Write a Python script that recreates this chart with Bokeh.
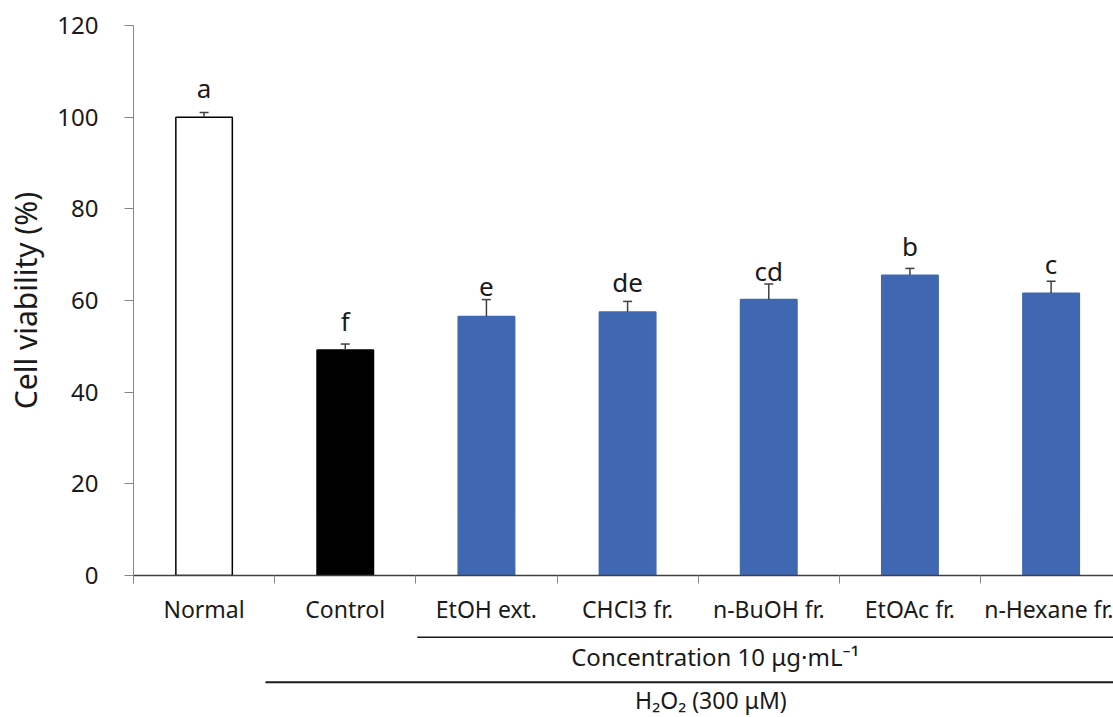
from bokeh.plotting import figure
from bokeh.models import Range1d, FixedTicker, ColumnDataSource
from bokeh.layouts import column
from bokeh.embed import file_html
from bokeh.resources import INLINE
from bokeh.core.properties import value

# ---------------- data ----------------
categories = ["Normal", "Control", "EtOH ext.", "CHCl3 fr.", "n-BuOH fr.", "EtOAc fr.", "n-Hexane fr."]
viability = [100.0, 49.2, 56.5, 57.5, 60.2, 65.5, 61.6]
error_up = [1.0, 1.3, 3.7, 2.3, 3.4, 1.5, 2.6]
letters = ["a", "f", "e", "de", "cd", "b", "c"]
letter_y = [104.3, 53.6, 60.9, 62.0, 64.5, 70.0, 65.9]
y_ticks = [0, 20, 40, 60, 80, 100, 120]
y_label = "Cell viability (%)"
group1_label = "Concentration 10 \u03bcg\u00b7mL\u207b\u00b9"
group2_label = "H\u2082O\u2082 (300 \u03bcM)"

# styles
BLUE = "#4068b2"
fill_colors = ["white", "black"] + [BLUE] * 5
line_colors = ["black", "black"] + [BLUE] * 5
FONT = "Noto Sans"
TXT = "#1a1a1a"

n = len(categories)
xs = [i + 0.5 for i in range(n)]
err_top = [v + e for v, e in zip(viability, error_up)]
cap = 0.032

src = ColumnDataSource(dict(
    x=xs, top=viability, et=err_top, fill=fill_colors, line=line_colors,
    xl=[x - cap for x in xs], xr=[x + cap for x in xs],
    letters=letters, ly=letter_y,
))

x_range = Range1d(0, 6.942)

p = figure(width=1113, height=630, x_range=x_range, y_range=Range1d(0, 120),
           output_backend="svg", toolbar_location=None,
           min_border_left=133, min_border_right=0, min_border_top=25, min_border_bottom=55)
p.outline_line_color = None
p.grid.visible = False
p.background_fill_color = "white"
p.border_fill_color = "white"

p.vbar(x="x", top="top", width=0.40, bottom=0, fill_color="fill", line_color="line",
       line_width=1.5, source=src)
p.segment(x0="x", y0="top", x1="x", y1="et", line_color="#404040", line_width=1.5, source=src)
p.segment(x0="xl", y0="et", x1="xr", y1="et", line_color="#404040", line_width=1.5, source=src)
p.text(x="x", y="ly", text="letters", text_align="center", text_baseline="alphabetic",
       y_offset=-9, text_font=value(FONT), text_font_size="26px", text_color=TXT, source=src)

# y axis
ya = p.yaxis[0]
ya.ticker = FixedTicker(ticks=y_ticks)
ya.minor_tick_line_color = None
ya.major_tick_in = 0
ya.major_tick_out = 9
ya.major_tick_line_color = "#868686"
ya.axis_line_color = "#868686"
ya.major_label_standoff = 26
ya.major_label_text_font = FONT
ya.major_label_text_font_size = "24px"
ya.major_label_text_color = TXT
ya.axis_label = y_label
ya.axis_label_text_font = FONT
ya.axis_label_text_font_size = "30px"
ya.axis_label_text_font_style = "normal"
ya.axis_label_text_color = TXT
ya.axis_label_standoff = 8

# x axis: category names at centres, boundary marks as minor ticks
xa = p.xaxis[0]
xa.ticker = FixedTicker(ticks=xs, minor_ticks=list(range(n + 1)))
xa.major_label_overrides = {x: c for x, c in zip(xs, categories)}
xa.major_tick_in = 0
xa.major_tick_out = 0
xa.major_tick_line_color = None
xa.minor_tick_in = 0
xa.minor_tick_out = 8
xa.minor_tick_line_color = "#868686"
xa.axis_line_color = "#404040"
xa.axis_line_width = 1.5
xa.major_label_standoff = 9
xa.major_label_text_font = FONT
xa.major_label_text_font_size = "23px"
xa.major_label_text_color = TXT

# ------------- lower panel: group brackets -------------
q = figure(width=1113, height=87, x_range=x_range, y_range=Range1d(87, 0),
           output_backend="svg", toolbar_location=None,
           x_axis_type=None, y_axis_type=None,
           min_border_left=133, min_border_right=0, min_border_top=0, min_border_bottom=0)
q.outline_line_color = None
q.grid.visible = False

q.segment(x0=[2.01], y0=[6.7], x1=[7.5], y1=[6.7], line_color="#1a1a1a", line_width=1.5)
q.segment(x0=[0.935], y0=[51.7], x1=[7.5], y1=[51.7], line_color="#1a1a1a", line_width=2)
q.text(x=[4.12], y=[26], text=[group1_label], text_align="center", text_baseline="middle",
       text_font=value(FONT), text_font_size="24px", text_color=TXT)
q.text(x=[4.09], y=[69], text=[group2_label], text_align="center", text_baseline="middle",
       text_font=value(FONT), text_font_size="23px", text_color=TXT)

layout = column(p, q, spacing=0)
open("out.html", "w").write(file_html(layout, INLINE))
